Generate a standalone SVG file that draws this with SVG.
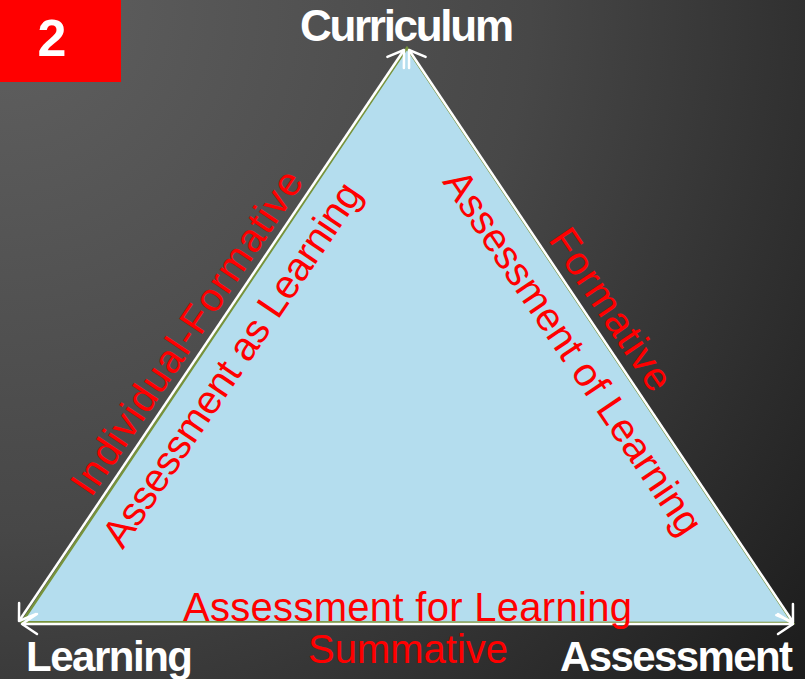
<svg xmlns="http://www.w3.org/2000/svg" width="805" height="679" viewBox="0 0 805 679">
<defs>
<radialGradient id="bg" gradientUnits="userSpaceOnUse" cx="0" cy="0" r="1060">
<stop offset="0" stop-color="#606060"/>
<stop offset="0.5" stop-color="#474747"/>
<stop offset="1" stop-color="#1b1b1b"/>
</radialGradient>
<marker id="ah" markerUnits="userSpaceOnUse" markerWidth="40" markerHeight="40" refX="0" refY="0" viewBox="-20 -20 40 40" orient="auto-start-reverse" overflow="visible">
<path d="M -15 -10 L 0 0 L -15 10" fill="none" stroke="#ffffff" stroke-width="2.5" stroke-linecap="round" stroke-linejoin="round"/>
</marker>
</defs>
<style>
.node{font-family:"Liberation Sans",Arial,sans-serif;font-weight:bold;fill:#ffffff}
.red{font-family:"Liberation Sans",Arial,sans-serif;fill:#ff0000;font-size:40px}
.arr{fill:none;stroke:#ffffff;stroke-width:2.5;marker-start:url(#ah);marker-end:url(#ah)}
</style>
<rect width="805" height="679" fill="url(#bg)"/>
<g id="badge">
<rect x="0" y="0" width="121" height="82" fill="#ff0000"/>
<text class="node" x="52" y="56" font-size="52" text-anchor="middle">2</text>
</g>
<g id="triangle">
<polygon points="407,48 22,622 793,623" fill="#b4ddee" stroke="#77933c" stroke-width="2.5"/>
</g>
<g id="connectors">
<line class="arr" x1="404" y1="50" x2="19" y2="621"/>
<line class="arr" x1="409" y1="50" x2="793" y2="622"/>
<line class="arr" x1="22" y1="624" x2="793" y2="624"/>
</g>
<g id="curriculum">
<text class="node" x="407" y="41" font-size="44" text-anchor="middle" textLength="214">Curriculum</text>
</g>
<g id="learning">
<text class="node" x="26" y="671" font-size="42" textLength="167">Learning</text>
</g>
<g id="assessment">
<text class="node" x="560" y="671" font-size="42" textLength="233">Assessment</text>
</g>
<g id="labels">
<text class="red" transform="translate(198,340) rotate(-56)" text-anchor="middle" textLength="382">Individual-Formative</text>
<text class="red" transform="translate(243,372) rotate(-56)" text-anchor="middle" textLength="430">Assessment as Learning</text>
<text class="red" transform="translate(562,360) rotate(56)" text-anchor="middle" textLength="430">Assessment of Learning</text>
<text class="red" transform="translate(600,317) rotate(56)" text-anchor="middle" textLength="187">Formative</text>
<text class="red" x="183" y="621" textLength="449">Assessment for Learning</text>
<text class="red" x="308" y="663" textLength="200">Summative</text>
</g>
</svg>
